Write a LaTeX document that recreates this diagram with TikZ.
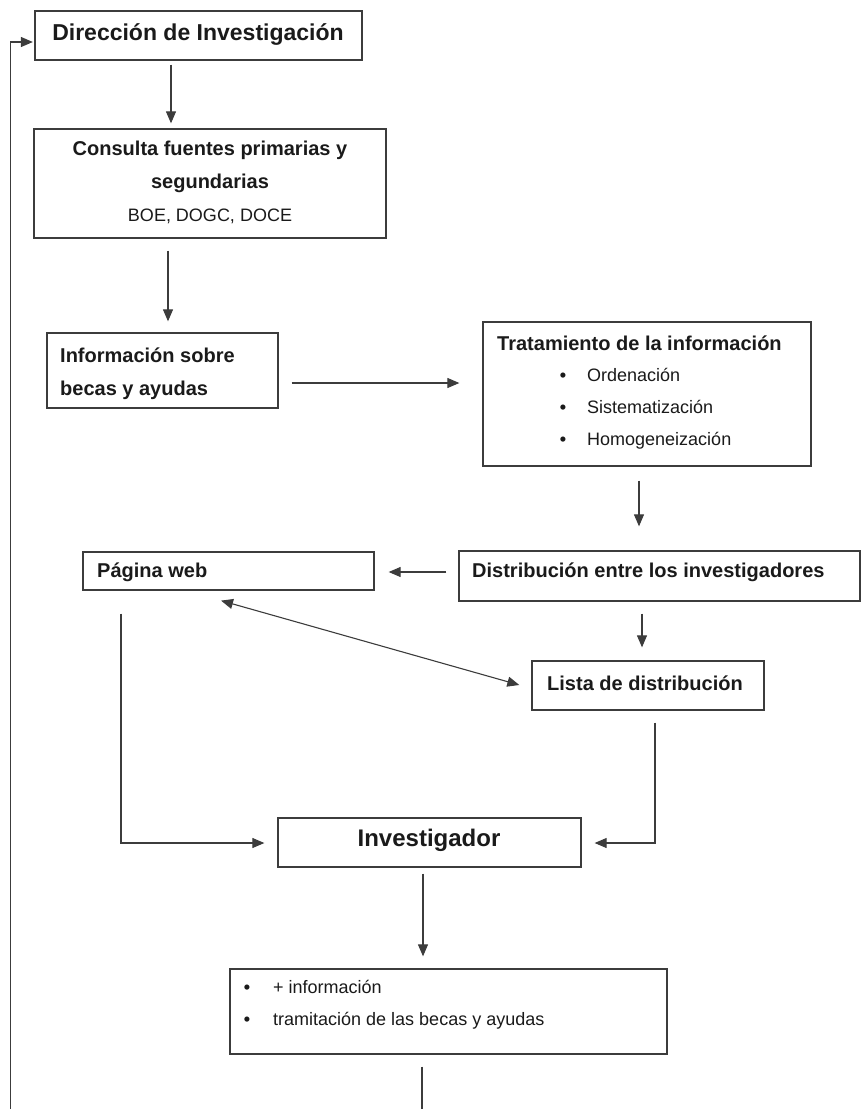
\documentclass[tikz,border=0pt]{standalone}
\usepackage{fontspec}
\setmainfont{Liberation Sans}
\usetikzlibrary{arrows.meta}
\definecolor{ln}{HTML}{3C3C3C}
\definecolor{tx}{HTML}{1A1A1A}
\begin{document}
\begin{tikzpicture}[x=1pt,y=-1pt,
  box/.style={draw=ln, line width=1.3pt, inner sep=0pt, fill=white},
  arr/.style={draw=ln, line width=1.1pt, -{Triangle[length=12pt,width=10pt]}},
  dbl/.style={draw=ln, line width=1.1pt, {Triangle[length=12pt,width=10pt]}-{Triangle[length=12pt,width=10pt]}},
  ln/.style={draw=ln, line width=1.1pt},
  tb/.style={text=tx, font=\fontsize{20}{24}\selectfont\bfseries, inner sep=0pt},
  tr/.style={text=tx, font=\fontsize{18}{22}\selectfont, inner sep=0pt},
  bul/.style={text=tx, font=\fontsize{18}{22}\selectfont\bfseries, inner sep=0pt, anchor=base}]
\useasboundingbox (0,0) rectangle (864,1109);
% boxes
\node[box, minimum width=327, minimum height=49] (dir) at (198.5,35.5) {};
\node[box, minimum width=352, minimum height=109] (con) at (210,183.5) {};
\node[box, minimum width=231, minimum height=75] (inf) at (162.5,370.5) {};
\node[box, minimum width=328, minimum height=144] (tra) at (647,394) {};
\node[box, minimum width=401, minimum height=50] (dis) at (659.5,576) {};
\node[box, minimum width=291, minimum height=38] (pag) at (228.5,571) {};
\node[box, minimum width=232, minimum height=49] (lis) at (648,685.5) {};
\node[box, minimum width=303, minimum height=49] (inv) at (429.5,842.5) {};
\node[box, minimum width=437, minimum height=85] (fin) at (448.5,1011.5) {};
% texts
\node[tb, font=\fontsize{23}{27}\selectfont\bfseries] (tdir) at (198,34) {Dirección de Investigación};
\node[tb] (tcon1) at (210,150) {Consulta fuentes primarias y};
\node[tb] (tcon2) at (210,183) {segundarias};
\node[tr] (tcon3) at (210,216) {BOE, DOGC, DOCE};
\node[tb, anchor=west] (tinf1) at (60,355) {Información sobre};
\node[tb, anchor=west] (tinf2) at (60,390) {becas y ayudas};
\node[tb, anchor=west] (ttra) at (497,343) {Tratamiento de la información};
\node[bul] (b1) at (563,381.5) {•};
\node[bul] (b2) at (563,413.5) {•};
\node[bul] (b3) at (563,445.5) {•};
\node[tr, anchor=base west] (ttra1) at (587,381.5) {Ordenación};
\node[tr, anchor=base west] (ttra2) at (587,413.5) {Sistematización};
\node[tr, anchor=base west] (ttra3) at (587,445.5) {Homogeneización};
\node[tb, anchor=west] (tdis) at (472,572) {Distribución entre los investigadores};
\node[tb, anchor=west] (tpag) at (97,572) {Página web};
\node[tb, anchor=west] (tlis) at (547,683) {Lista de distribución};
\node[tb, font=\fontsize{24}{28}\selectfont\bfseries] (tinv) at (429,840) {Investigador};
\node[bul] (b4) at (247,993.5) {•};
\node[bul] (b5) at (247,1025.5) {•};
\node[tr, anchor=base west] (tfin1) at (273,993.5) {+ información};
\node[tr, anchor=base west] (tfin2) at (273,1025.5) {tramitación de las becas y ayudas};
% free ends
\coordinate (loopbot) at (10.5,1112);
\coordinate (bot) at (422,1112);
% connectors
\draw[arr, shorten <=4pt, shorten >=5pt] ([xshift=-27.5pt]dir.south) -- ([xshift=-39pt]con.north);
\draw[arr, shorten <=12pt, shorten >=11pt] ([xshift=-42pt]con.south) -- ([xshift=5.5pt]inf.north);
\draw[arr, shorten <=13pt, shorten >=23pt] ([yshift=-12.5pt]inf.east) -- ([yshift=11pt]tra.west);
\draw[arr, shorten <=14pt, shorten >=24pt] ([xshift=-8pt]tra.south) -- ([xshift=-20.5pt]dis.north);
\draw[arr, shorten <=12pt, shorten >=14pt] ([yshift=4pt]dis.west) -- ([yshift=-1pt]pag.east);
\draw[arr, shorten <=12pt, shorten >=13pt] ([xshift=-17.5pt]dis.south) -- ([xshift=-6pt]lis.north);
\draw[dbl, shorten <=36.6pt, shorten >=12.5pt] ([xshift=-42.7pt]pag.south) -- ([yshift=-2.9pt]lis.west);
\draw[arr, shorten <=23pt, shorten >=13pt] ([xshift=-107.5pt]pag.south) |- ([yshift=-0.5pt]inv.west);
\draw[arr, shorten <=12pt, shorten >=13pt] ([xshift=7pt]lis.south) |- ([yshift=-0.5pt]inv.east);
\draw[arr, shorten <=6pt, shorten >=12pt] ([xshift=-6.5pt]inv.south) -- ([xshift=-25.5pt]fin.north);
\draw[ln, shorten <=12pt] ([xshift=-26.5pt]fin.south) -- (bot);
\draw[arr, shorten >=1.5pt] (loopbot) |- ([yshift=-6.5pt]dir.west);
\end{tikzpicture}
\end{document}
